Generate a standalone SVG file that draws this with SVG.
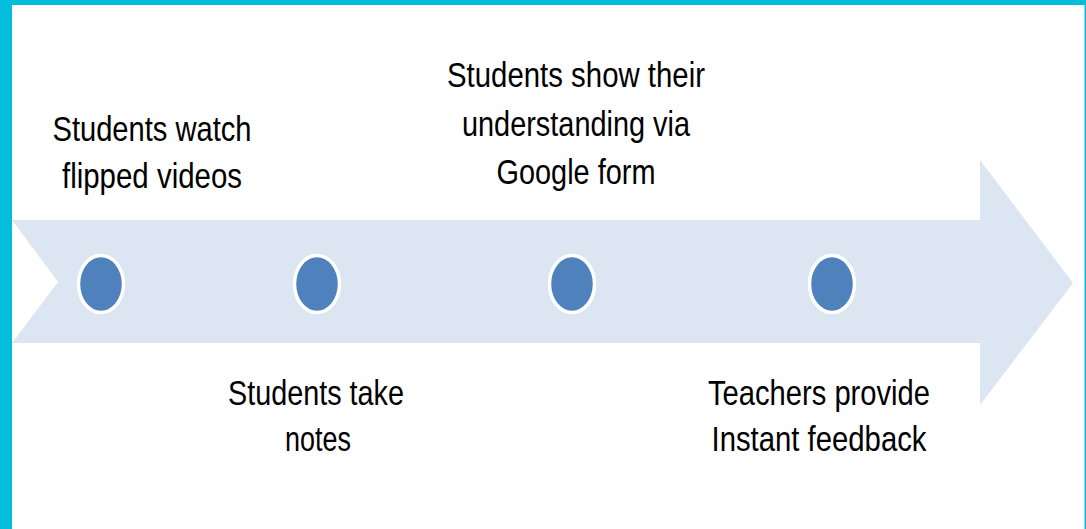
<svg xmlns="http://www.w3.org/2000/svg" width="1086" height="529" viewBox="0 0 1086 529">
  <style>
    .lbl { font-family: "Liberation Sans", Arial, sans-serif; font-size: 35px; fill: #000; text-anchor: middle; }
    .dot { fill: #4F81BD; stroke: #FFFFFF; stroke-width: 3.5; }
  </style>
  <rect x="0" y="0" width="1086" height="529" fill="#FFFFFF"/>
  <g id="frame">
    <rect x="0" y="0" width="1086" height="5" fill="#02BDDB"/>
    <rect x="0" y="0" width="12" height="529" fill="#02BDDB"/>
    <rect x="1084.5" y="0" width="1.5" height="529" fill="#02BDDB"/>
  </g>
  <g id="connectors">
    <polygon id="timeline-arrow" points="12,220 980,220 980,160 1073,283 980,405 980,343 12,343 58,282" fill="#DCE6F2"/>
  </g>
  <g id="node1">
    <ellipse class="dot" cx="101" cy="284" rx="22.5" ry="28.5"/>
    <text class="lbl" x="152" y="141" textLength="199" lengthAdjust="spacingAndGlyphs">Students watch</text>
    <text class="lbl" x="152" y="188" textLength="180" lengthAdjust="spacingAndGlyphs">flipped videos</text>
  </g>
  <g id="node2">
    <ellipse class="dot" cx="317" cy="284" rx="22.5" ry="28.5"/>
    <text class="lbl" x="316" y="405" textLength="176" lengthAdjust="spacingAndGlyphs">Students take</text>
    <text class="lbl" x="318" y="451" textLength="66" lengthAdjust="spacingAndGlyphs">notes</text>
  </g>
  <g id="node3">
    <ellipse class="dot" cx="572" cy="284" rx="22.5" ry="28.5"/>
    <text class="lbl" x="576" y="87" textLength="258" lengthAdjust="spacingAndGlyphs">Students show their</text>
    <text class="lbl" x="576" y="136" textLength="228" lengthAdjust="spacingAndGlyphs">understanding via</text>
    <text class="lbl" x="576" y="184" textLength="159" lengthAdjust="spacingAndGlyphs">Google form</text>
  </g>
  <g id="node4">
    <ellipse class="dot" cx="832" cy="284" rx="22.5" ry="28.5"/>
    <text class="lbl" x="819" y="405" textLength="222" lengthAdjust="spacingAndGlyphs">Teachers provide</text>
    <text class="lbl" x="819" y="451" textLength="215" lengthAdjust="spacingAndGlyphs">Instant feedback</text>
  </g>
</svg>
